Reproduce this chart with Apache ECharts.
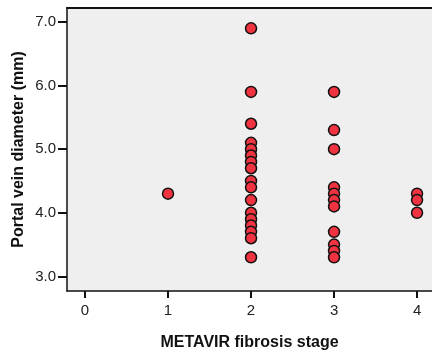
<!DOCTYPE html>
<html>
<head>
<meta charset="utf-8">
<script src="https://cdn.jsdelivr.net/npm/echarts@6/dist/echarts.min.js"></script>
<style>
    html, body { margin: 0; padding: 0; background: #fff; }
    #chart { width: 432px; height: 356px; }
</style>
</head>
<body>
<div id="chart"></div>
<script>
// 各纤维化分期的门静脉直径 (mm)
const stage1 = [4.3]
const stage2 = [6.9, 5.9, 5.4, 5.1, 5.0, 4.9, 4.8, 4.7, 4.5, 4.4, 4.2, 4.0, 3.9, 3.8, 3.7, 3.6, 3.3]
const stage3 = [5.9, 5.3, 5.0, 4.4, 4.3, 4.2, 4.1, 3.7, 3.5, 3.4, 3.3]
const stage4 = [4.3, 4.2, 4.0]
const stages = [1, 2, 3, 4]
const xTicks = [0, 1, 2, 3, 4]
const yTicks = [3, 4, 5, 6, 7]

// 拼成散点数据
const groups = [stage1, stage2, stage3, stage4]
const points = []
groups.forEach((vals, i) => {
    vals.forEach(v => points.push([stages[i], v]))
})

const myChart = echarts.init(document.getElementById('chart'))
const font = 'Liberation Sans, Arial, sans-serif'
const option = {
    animation: false,
    grid: {
        left: 67, top: 8, right: 0, bottom: 63,
        show: true,
        backgroundColor: '#efefef',
        borderWidth: 0
    },
    xAxis: [
        {
            type: 'value',
            min: -0.217,
            max: 4.18,
            name: 'METAVIR fibrosis stage',
            nameLocation: 'middle',
            nameGap: 44,
            nameTextStyle: { color: '#111', fontSize: 16, fontWeight: 'bold', fontFamily: font },
            splitLine: { show: false },
            axisLine: { show: true, onZero: false, lineStyle: { color: '#111', width: 1.5 } },
            axisTick: { show: true, length: 7, customValues: xTicks, lineStyle: { color: '#111', width: 2 } },
            axisLabel: {
                customValues: xTicks,
                color: '#222', fontSize: 15, fontFamily: font, margin: 12
            }
        },
        {
            // 上边框
            type: 'value',
            position: 'top',
            min: -0.217,
            max: 4.18,
            splitLine: { show: false },
            axisLine: { show: true, onZero: false, lineStyle: { color: '#111', width: 2 } },
            axisTick: { show: false },
            axisLabel: { show: false }
        }
    ],
    yAxis: {
        type: 'value',
        min: 2.77,
        max: 7.22,
        name: 'Portal vein diameter (mm)',
        nameLocation: 'middle',
        nameGap: 40,
        nameMoveOverlap: false,
        nameTextStyle: { color: '#111', fontSize: 16, fontWeight: 'bold', fontFamily: font },
        splitLine: { show: false },
        axisLine: { show: true, onZero: false, lineStyle: { color: '#111', width: 1.5 } },
        axisTick: { show: true, length: 9, customValues: yTicks, lineStyle: { color: '#111', width: 2 } },
        axisLabel: {
            customValues: yTicks,
            formatter: v => v.toFixed(1),
            color: '#222', fontSize: 15, fontFamily: font, margin: 11
        }
    },
    series: [
        {
            type: 'scatter',
            xAxisIndex: 0,
            symbolSize: 11,
            itemStyle: { color: '#ef3340', borderColor: '#111', borderWidth: 1.5, opacity: 1 },
            data: points
        }
    ]
}
myChart.setOption(option)
</script>
</body>
</html>
